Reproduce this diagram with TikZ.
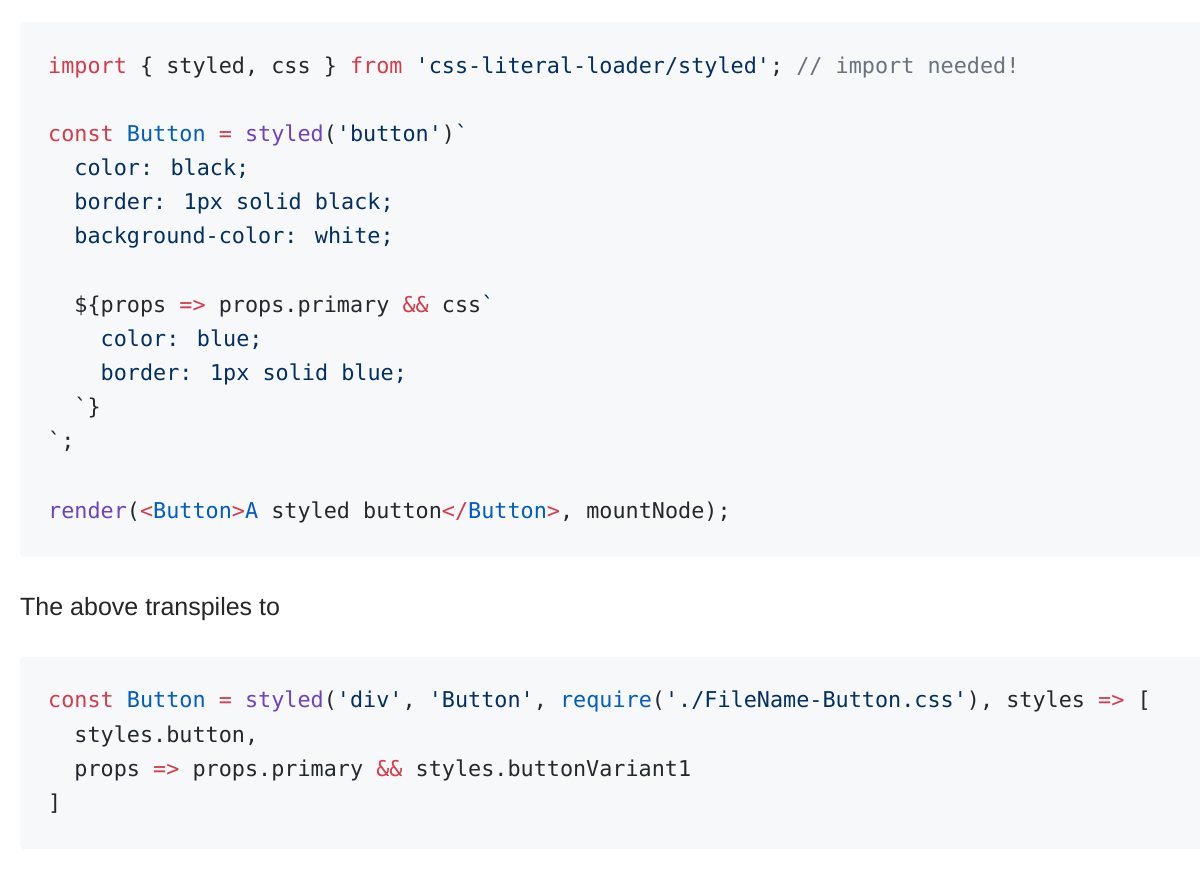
\documentclass[tikz,border=0pt]{standalone}
\usepackage{fontspec}
\setmainfont{Liberation Sans}
\newfontfamily\codefont{DejaVu Sans Mono}
\definecolor{bgc}{HTML}{F6F8FA}
\definecolor{kw}{HTML}{D73A49}
\definecolor{ent}{HTML}{005CC5}
\definecolor{fn}{HTML}{6F42C1}
\definecolor{str}{HTML}{032F62}
\definecolor{cmt}{HTML}{6A737D}
\definecolor{txt}{HTML}{24292E}
\newcommand\K[1]{\textcolor{kw}{#1}}
\newcommand\E[1]{\textcolor{ent}{#1}}
\newcommand\F[1]{\textcolor{fn}{#1}}
\newcommand\St[1]{\textcolor{str}{#1}}
\newcommand\C[1]{\textcolor{cmt}{#1}}
\begin{document}
\begin{tikzpicture}[x=1pt,y=-1pt,
  code/.style={anchor=base west,inner sep=0pt,text=txt,font=\codefont\fontsize{21.8}{26}\selectfont},
  prose/.style={anchor=base west,inner sep=0pt,text=black!85,font=\fontsize{25}{30}\selectfont}]
\useasboundingbox (0,0) rectangle (1200,871);
\fill[white] (0,0) rectangle (1200,871);
\fill[bgc,rounded corners=4pt] (20,22) rectangle (1215,557);
\fill[bgc,rounded corners=4pt] (20,657) rectangle (1215,849);
\def\ind{13.12}
\node[code] (l1) at (48,73) {\K{import} \{ styled, css \} \K{from} \St{'css-literal-loader/styled'}; \C{// import needed!}};
\node[code] (l2) at (48,141) {\K{const} \E{Button} \K{=} \F{styled}(\St{'button'})\St{`}};
\node[code] (l3) at (74.2,175) {\St{color: black;}};
\node[code] (l4) at (74.2,209) {\St{border: 1px solid black;}};
\node[code] (l5) at (74.2,243) {\St{background-color: white;}};
\node[code] (l6) at (74.2,312) {\$\{props \K{=>} props.primary \K{\&\&} css\St{`}};
\node[code] (l7) at (100.5,346) {\St{color: blue;}};
\node[code] (l8) at (100.5,380) {\St{border: 1px solid blue;}};
\node[code] (l9) at (74.2,414) {`\}};
\node[code] (l10) at (48,448) {`;};
\node[code] (l11) at (48,518) {\F{render}(\K{<}\E{Button}\K{>}\E{A} styled button\K{</}\E{Button}\K{>}, mountNode);};
\node[prose] (p) at (20,615) {The above transpiles to};
\node[code] (m1) at (48,707) {\K{const} \E{Button} \K{=} \F{styled}(\St{'div'}, \St{'Button'}, \E{require}(\St{'./FileName-Button.css'}), styles \K{=>} [};
\node[code] (m2) at (74.2,742) {styles.button,};
\node[code] (m3) at (74.2,776) {props \K{=>} props.primary \K{\&\&} styles.buttonVariant1};
\node[code] (m4) at (48,810) {]};
\end{tikzpicture}
\end{document}
